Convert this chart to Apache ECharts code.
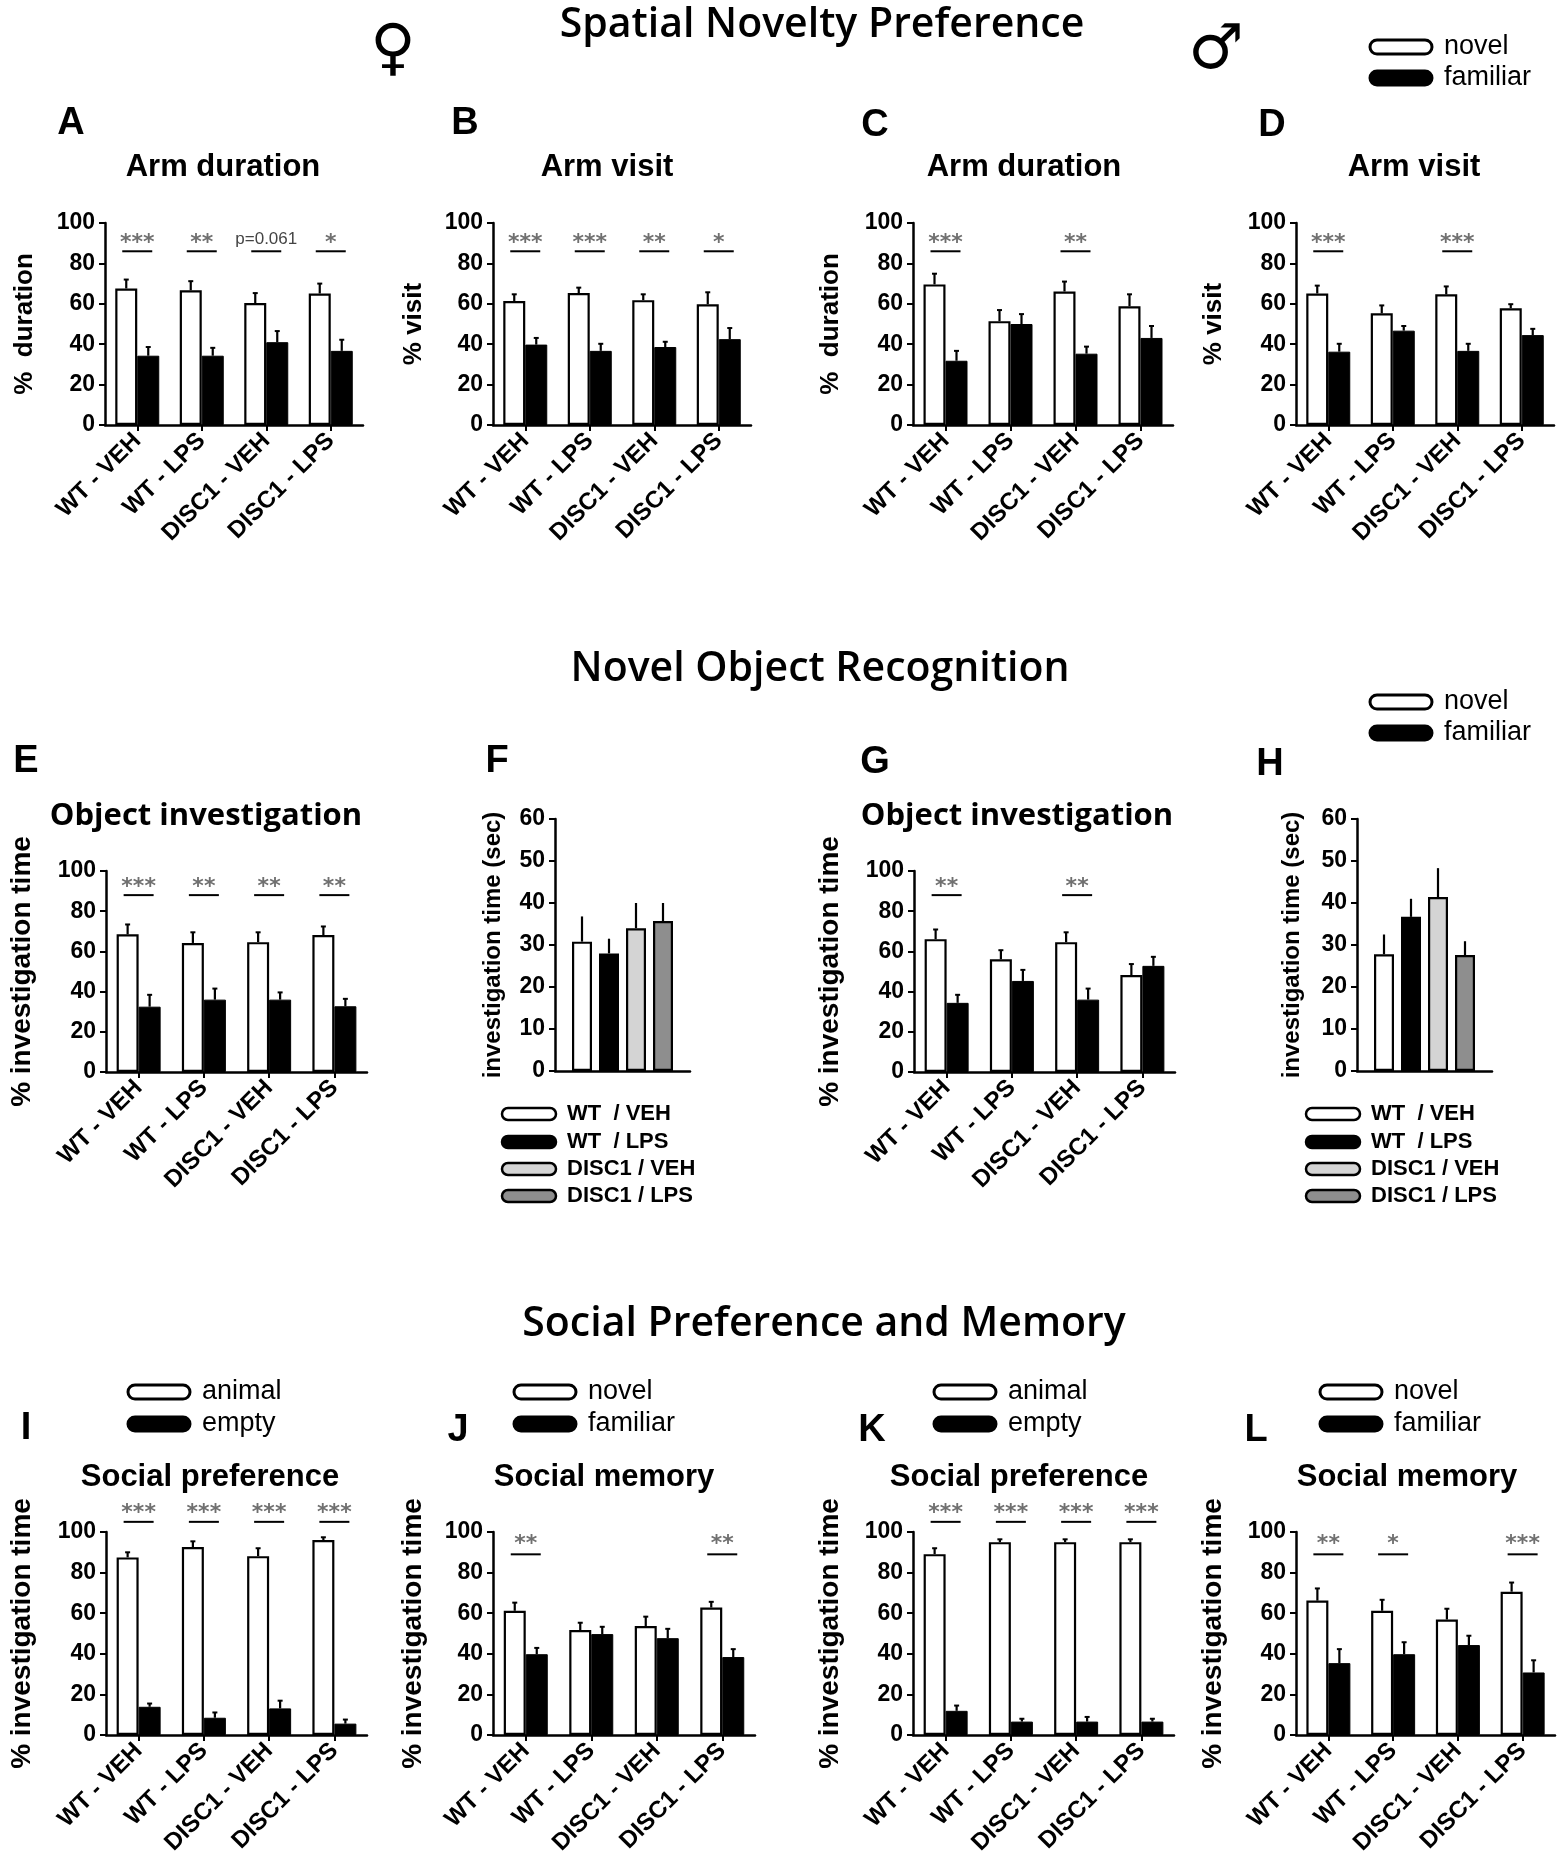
<!DOCTYPE html>
<html><head><meta charset="utf-8">
<script src="https://cdn.jsdelivr.net/npm/echarts@6/dist/echarts.min.js"></script>
<style>html,body{margin:0;padding:0;background:#fff}#c{width:1559px;height:1872px}</style>
</head><body><div id="c"></div>
<script>
// ---------- data ----------
const categories = ['WT - VEH', 'WT - LPS', 'DISC1 - VEH', 'DISC1 - LPS'];
const groupNames = ['WT  / VEH', 'WT  / LPS', 'DISC1 / VEH', 'DISC1 / LPS'];
const pctTicks = [0, 100, 20];
const secTicks = [0, 60, 10];

// A  female, arm duration
const aNovel = [67.6, 66.7, 60.4, 65.1];
const aNovelErr = [4.4, 4.5, 4.9, 4.9];
const aFamiliar = [34.3, 34.3, 41.0, 36.7];
const aFamiliarErr = [4.3, 3.9, 5.5, 5.5];
const aSig = ['***', '**', 'p=0.061', '*'];
// B  female, arm visit
const bNovel = [61.4, 65.3, 61.8, 59.8];
const bNovelErr = [3.3, 2.7, 2.9, 5.9];
const bFamiliar = [39.8, 36.7, 38.6, 42.5];
const bFamiliarErr = [3.3, 3.5, 2.6, 5.5];
const bSig = ['***', '***', '**', '*'];
// C  male, arm duration
const cNovel = [69.6, 51.4, 66.1, 58.8];
const cNovelErr = [5.3, 5.5, 4.9, 5.9];
const cFamiliar = [31.8, 50.0, 35.3, 43.1];
const cFamiliarErr = [4.9, 4.9, 3.5, 5.9];
const cSig = ['***', '', '**', ''];
// D  male, arm visit
const dNovel = [65.1, 55.3, 64.7, 57.8];
const dNovelErr = [3.9, 3.9, 3.9, 2.0];
const dFamiliar = [36.3, 46.7, 36.7, 44.5];
const dFamiliarErr = [3.9, 2.3, 3.5, 3.1];
const dSig = ['***', '', '***', ''];
// E  female, object investigation
const eNovel = [68.5, 64.2, 64.6, 68.1];
const eNovelErr = [4.9, 5.3, 4.9, 4.3];
const eFamiliar = [32.5, 36.0, 36.0, 32.7];
const eFamiliarErr = [5.9, 5.5, 3.6, 3.7];
const eSig = ['***', '**', '**', '**'];
// F  female, total investigation time (sec)
const fTime = [30.8, 28.0, 34.0, 35.7];
const fTimeErr = [6.0, 3.5, 6.0, 4.3];
// G  male, object investigation
const gNovel = [66.1, 56.1, 64.6, 48.2];
const gNovelErr = [4.8, 4.5, 4.9, 5.5];
const gFamiliar = [34.4, 45.3, 36.0, 52.8];
const gFamiliarErr = [4.0, 5.5, 5.5, 4.5];
const gSig = ['**', '', '**', ''];
// H  male, total investigation time (sec)
const hTime = [27.8, 36.7, 41.4, 27.6];
const hTimeErr = [4.7, 4.3, 6.9, 3.3];
// I  female, social preference
const iAnimal = [87.5, 92.6, 88.1, 96.0];
const iAnimalErr = [2.5, 2.8, 3.9, 1.4];
const iEmpty = [13.9, 8.5, 13.1, 5.6];
const iEmptyErr = [1.6, 2.6, 3.8, 2.0];
const iSig = ['***', '***', '***', '***'];
// J  female, social memory
const jNovel = [61.2, 51.7, 53.7, 62.8];
const jNovelErr = [4.0, 3.6, 4.6, 2.8];
const jFamiliar = [39.8, 49.7, 47.7, 38.4];
const jFamiliarErr = [3.1, 3.6, 4.6, 3.9];
const jSig = ['**', '', '', '**'];
// K  male, social preference
const kAnimal = [89.1, 95.0, 95.0, 95.0];
const kAnimalErr = [2.9, 1.4, 1.4, 1.4];
const kEmpty = [11.9, 6.6, 6.6, 6.6];
const kEmptyErr = [2.6, 1.4, 2.3, 1.4];
const kSig = ['***', '***', '***', '***'];
// L  male, social memory
const lNovel = [66.2, 61.2, 56.9, 70.6];
const lNovelErr = [6.0, 5.4, 5.3, 4.5];
const lFamiliar = [35.4, 39.8, 44.3, 30.8];
const lFamiliarErr = [6.9, 5.9, 4.6, 6.0];
const lSig = ['**', '*', '', '***'];

// ---------- styling / builders ----------
const SANS = '"Liberation Sans", Arial, sans-serif';
const TITLE = '"Open Sans", "Noto Sans", sans-serif';
const grids = [], xAxes = [], yAxes = [], series = [], graphics = [];

function yAxisBase(gi, ticks, name, nameGap, nameSize) {
  return {
    gridIndex: gi, type: 'value', min: ticks[0], max: ticks[1], interval: ticks[2],
    axisLine: { show: true, lineStyle: { color: '#000', width: 2.5 } },
    axisTick: { show: true, length: 6, lineStyle: { color: '#000', width: 2 } },
    axisLabel: { color: '#000', fontFamily: SANS, fontWeight: 'bold', fontSize: 23, margin: 10 },
    splitLine: { show: false },
    name: name, nameLocation: 'middle', nameRotate: 90, nameGap: nameGap,
    nameTextStyle: { color: '#000', fontFamily: SANS, fontWeight: 'bold', fontSize: nameSize }
  };
}

function errSeries(gi, vals, errs, off, cap) {
  return {
    type: 'custom', xAxisIndex: gi, yAxisIndex: gi, clip: false, silent: true, z: 3,
    data: vals.map((v, i) => [i, v, errs[i]]),
    encode: { x: 0, y: 1 },
    renderItem: (params, api) => {
      const p0 = api.coord([api.value(0), api.value(1)]);
      const p1 = api.coord([api.value(0), api.value(1) + api.value(2)]);
      const x = p0[0] + off;
      const ch = [{ type: 'line', shape: { x1: x, y1: p0[1], x2: x, y2: p1[1] }, style: { stroke: '#000', lineWidth: 2.2 } }];
      if (cap > 0) ch.push({ type: 'line', shape: { x1: x - cap / 2, y1: p1[1], x2: x + cap / 2, y2: p1[1] }, style: { stroke: '#000', lineWidth: 2 } });
      return { type: 'group', children: ch };
    }
  };
}

function sigSeries(gi, sig, starY, lineY) {
  return {
    type: 'custom', xAxisIndex: gi, yAxisIndex: gi, clip: false, silent: true, z: 3,
    data: sig.map((s, i) => [i, starY, lineY]).filter((d, i) => sig[i] !== ''),
    encode: { x: 0, y: 1 },
    renderItem: (params, api) => {
      const i = api.value(0);
      const s = sig[i];
      const pS = api.coord([i, api.value(1)]);
      const pL = api.coord([i, api.value(2)]);
      const isStar = s.indexOf('*') === 0;
      return {
        type: 'group', children: [
          { type: 'text', x: pS[0], y: pS[1] + (isStar ? 4 : 0), style: {
              text: s, fill: isStar ? '#707070' : '#444',
              font: isStar ? 'bold 22px "DejaVu Sans", sans-serif' : '17px ' + SANS,
              align: 'center', verticalAlign: 'middle', textAlign: 'center', textVerticalAlign: 'middle' } },
          { type: 'line', shape: { x1: pL[0] - 15, y1: pL[1], x2: pL[0] + 15, y2: pL[1] }, style: { stroke: '#000', lineWidth: 2 } }
        ]
      };
    }
  };
}

function pairPanel(p) {
  const gi = grids.length;
  grids.push({ left: p.left, top: p.top, width: p.width, height: p.height });
  xAxes.push({
    gridIndex: gi, type: 'category', data: categories, offset: 4,
    axisLine: { lineStyle: { color: '#000', width: 2.5 } },
    axisTick: { show: true, alignWithLabel: true, length: 6, lineStyle: { color: '#000', width: 2 } },
    axisLabel: { interval: 0, rotate: 45, margin: 8, color: '#000', fontFamily: SANS, fontWeight: 'bold', fontSize: 24 }
  });
  yAxes.push(yAxisBase(gi, pctTicks, p.yName, p.nameGap, p.nameSize || 28));
  series.push({ type: 'bar', name: p.n1, xAxisIndex: gi, yAxisIndex: gi, data: p.v1, barWidth: 22, barGap: '0%', silent: true,
    itemStyle: { color: '#fff', borderColor: '#000', borderWidth: 2.2 } });
  series.push({ type: 'bar', name: p.n2, xAxisIndex: gi, yAxisIndex: gi, data: p.v2, barWidth: 22, barGap: '0%', silent: true,
    itemStyle: { color: '#000', borderColor: '#000', borderWidth: 1 } });
  series.push(errSeries(gi, p.v1, p.e1, -11, 5));
  series.push(errSeries(gi, p.v2, p.e2, 11, 5));
  series.push(sigSeries(gi, p.sig, p.starY, p.lineY));
}

const groupColors = ['#ffffff', '#000000', '#d4d4d4', '#8e8e8e'];
function timePanel(p) {
  const gi = grids.length;
  grids.push({ left: p.left, top: p.top, width: p.width, height: p.height });
  xAxes.push({
    gridIndex: gi, type: 'category', data: [''], offset: 6,
    axisLine: { lineStyle: { color: '#000', width: 2.5 } },
    axisTick: { show: false }, axisLabel: { show: false }
  });
  yAxes.push(yAxisBase(gi, secTicks, 'investigation time (sec)', p.nameGap, 24));
  const offs = [-40.5, -13.5, 13.5, 40.5];
  p.v.forEach((v, k) => {
    series.push({ type: 'bar', name: groupNames[k], xAxisIndex: gi, yAxisIndex: gi, data: [v], barWidth: 20, barGap: '35%', silent: true,
      itemStyle: { color: groupColors[k], borderColor: '#000', borderWidth: 2.2 } });
  });
  p.v.forEach((v, k) => series.push(errSeries(gi, [v], [p.e[k]], offs[k], 0)));
  // legend
  groupNames.forEach((g, k) => {
    const y = p.legY[k];
    graphics.push({ type: 'rect', shape: { x: p.legX, y: y - 6, width: 54, height: 12, r: 6 },
      style: { fill: groupColors[k], stroke: '#000', lineWidth: 2.5 } });
    graphics.push({ type: 'text', x: p.legX + 65, y: y, style: { text: g, font: 'bold 22px ' + SANS, fill: '#000',
      align: 'left', verticalAlign: 'middle', textAlign: 'left', textVerticalAlign: 'middle' } });
  });
}

function txt(str, x, y, font, align) {
  graphics.push({ type: 'text', x: x, y: y, style: { text: str, font: font, fill: '#000',
    align: align || 'center', verticalAlign: 'middle', textAlign: align || 'center', textVerticalAlign: 'middle' } });
}
function legend2(x, y1, y2, t1, t2) {
  graphics.push({ type: 'rect', shape: { x: x, y: y1 - 7, width: 62, height: 14, r: 7 }, style: { fill: '#fff', stroke: '#000', lineWidth: 3 } });
  graphics.push({ type: 'rect', shape: { x: x, y: y2 - 7, width: 62, height: 14, r: 7 }, style: { fill: '#000', stroke: '#000', lineWidth: 3 } });
  txt(t1, x + 74, y1, '27px ' + SANS, 'left');
  txt(t2, x + 74, y2, '27px ' + SANS, 'left');
}

// ---------- row 1: Spatial Novelty Preference ----------
const R1 = { top: 223, height: 202 };
pairPanel({ left: 105, top: R1.top, width: 258, height: R1.height, yName: '%  duration', nameGap: 67, nameSize: 26, n1: 'novel', n2: 'familiar',
  v1: aNovel, e1: aNovelErr, v2: aFamiliar, e2: aFamiliarErr, sig: aSig, starY: 92, lineY: 86 });
pairPanel({ left: 493, top: R1.top, width: 258, height: R1.height, yName: '% visit', nameGap: 66, nameSize: 26, n1: 'novel', n2: 'familiar',
  v1: bNovel, e1: bNovelErr, v2: bFamiliar, e2: bFamiliarErr, sig: bSig, starY: 92, lineY: 86 });
pairPanel({ left: 913, top: R1.top, width: 260, height: R1.height, yName: '%  duration', nameGap: 69, nameSize: 26, n1: 'novel', n2: 'familiar',
  v1: cNovel, e1: cNovelErr, v2: cFamiliar, e2: cFamiliarErr, sig: cSig, starY: 92, lineY: 86 });
pairPanel({ left: 1296, top: R1.top, width: 258, height: R1.height, yName: '% visit', nameGap: 69, nameSize: 26, n1: 'novel', n2: 'familiar',
  v1: dNovel, e1: dNovelErr, v2: dFamiliar, e2: dFamiliarErr, sig: dSig, starY: 92, lineY: 86 });

// ---------- row 2: Novel Object Recognition ----------
const R2 = { top: 871, height: 201 };
pairPanel({ left: 106, top: R2.top, width: 261, height: R2.height, yName: '% investigation time', nameGap: 70, n1: 'novel', n2: 'familiar',
  v1: eNovel, e1: eNovelErr, v2: eFamiliar, e2: eFamiliarErr, sig: eSig, starY: 94, lineY: 88 });
timePanel({ left: 555, top: 819, width: 135, height: 252, nameGap: 50, v: fTime, e: fTimeErr, legX: 502, legY: [1114, 1142, 1169, 1196] });
pairPanel({ left: 914, top: R2.top, width: 261, height: R2.height, yName: '% investigation time', nameGap: 70, n1: 'novel', n2: 'familiar',
  v1: gNovel, e1: gNovelErr, v2: gFamiliar, e2: gFamiliarErr, sig: gSig, starY: 94, lineY: 88 });
timePanel({ left: 1357, top: 819, width: 135, height: 252, nameGap: 53, v: hTime, e: hTimeErr, legX: 1306, legY: [1114, 1142, 1169, 1196] });

// ---------- row 3: Social Preference and Memory ----------
const R3 = { top: 1532, height: 203 };
pairPanel({ left: 106, top: R3.top, width: 261, height: R3.height, yName: '% investigation time', nameGap: 70, n1: 'animal', n2: 'empty',
  v1: iAnimal, e1: iAnimalErr, v2: iEmpty, e2: iEmptyErr, sig: iSig, starY: 111, lineY: 105 });
pairPanel({ left: 493, top: R3.top, width: 262, height: R3.height, yName: '% investigation time', nameGap: 66, n1: 'novel', n2: 'familiar',
  v1: jNovel, e1: jNovelErr, v2: jFamiliar, e2: jFamiliarErr, sig: jSig, starY: 96, lineY: 89 });
pairPanel({ left: 913, top: R3.top, width: 261, height: R3.height, yName: '% investigation time', nameGap: 69, n1: 'animal', n2: 'empty',
  v1: kAnimal, e1: kAnimalErr, v2: kEmpty, e2: kEmptyErr, sig: kSig, starY: 111, lineY: 105 });
pairPanel({ left: 1296, top: R3.top, width: 259, height: R3.height, yName: '% investigation time', nameGap: 69, n1: 'novel', n2: 'familiar',
  v1: lNovel, e1: lNovelErr, v2: lFamiliar, e2: lFamiliarErr, sig: lSig, starY: 96, lineY: 89 });

// ---------- texts ----------
txt('Spatial Novelty Preference', 822, 25, '600 41px ' + TITLE);
txt('Novel Object Recognition', 820, 669, '600 41px ' + TITLE);
txt('Social Preference and Memory', 824, 1324, '600 41px ' + TITLE);
txt('\u2640', 393, 52, 'bold 62px "DejaVu Sans", sans-serif');
txt('\u2642', 1216, 52, 'bold 62px "DejaVu Sans", sans-serif');

const LET = 'bold 38px ' + SANS;
txt('A', 71, 124, LET); txt('B', 465, 124, LET); txt('C', 875, 126, LET); txt('D', 1272, 126, LET);
txt('E', 26, 762, LET); txt('F', 497, 762, LET); txt('G', 875, 763, LET); txt('H', 1270, 765, LET);
txt('I', 26, 1429, LET); txt('J', 458, 1431, LET); txt('K', 872, 1431, LET); txt('L', 1256, 1431, LET);

const PT = 'bold 31px ' + SANS;
txt('Arm duration', 223, 167, PT); txt('Arm visit', 607, 167, PT);
txt('Arm duration', 1024, 167, PT); txt('Arm visit', 1414, 167, PT);
txt('Object investigation', 206, 816, 'bold 31px ' + TITLE);
txt('Object investigation', 1017, 816, 'bold 31px ' + TITLE);
const PT3 = 'bold 31px ' + SANS;
txt('Social preference', 210, 1477, PT3); txt('Social memory', 604, 1477, PT3);
txt('Social preference', 1019, 1477, PT3); txt('Social memory', 1407, 1477, PT3);

legend2(1370, 47, 78, 'novel', 'familiar');
legend2(1370, 702, 733, 'novel', 'familiar');
legend2(128, 1392, 1424, 'animal', 'empty');
legend2(514, 1392, 1424, 'novel', 'familiar');
legend2(934, 1392, 1424, 'animal', 'empty');
legend2(1320, 1392, 1424, 'novel', 'familiar');

const chart = echarts.init(document.getElementById('c'), null, { renderer: 'canvas' });
chart.setOption({
  backgroundColor: '#fff',
  animation: false,
  grid: grids, xAxis: xAxes, yAxis: yAxes, series: series,
  graphic: { elements: graphics }
});
</script></body></html>
